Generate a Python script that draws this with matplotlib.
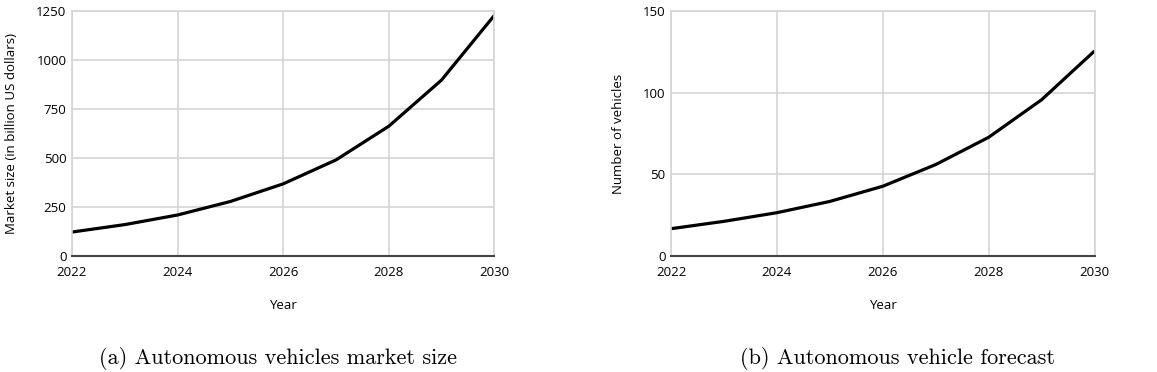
import numpy as np
import matplotlib.pyplot as plt

# Data
years = [2022, 2023, 2024, 2025, 2026, 2027, 2028, 2029, 2030]
market_size = [122, 160, 209, 278, 368, 490, 662, 898, 1228]
vehicles = [16.7, 21.2, 26.5, 33.4, 42.7, 56.0, 72.7, 95.7, 125.6]

x_ticks = [2022, 2024, 2026, 2028, 2030]
left_yticks = [0, 250, 500, 750, 1000, 1250]
right_yticks = [0, 50, 100, 150]

TICK_FONT = "Open Sans"
GRID_COLOR = "#d4d4d4"

fig = plt.figure(figsize=(11.57, 3.72), dpi=100)
ax1 = fig.add_axes([0.0622, 0.312, 0.365, 0.658])
ax2 = fig.add_axes([0.580, 0.312, 0.366, 0.658])


def style_axis(ax, yticks, ylabel, ylabelpad):
    ax.set_xlim(2022, 2030)
    ax.set_ylim(yticks[0], yticks[-1])
    ax.set_xticks(x_ticks)
    ax.set_yticks(yticks)
    ax.grid(True, color=GRID_COLOR, linewidth=1.2)
    ax.set_axisbelow(True)
    for side in ["top", "right", "left"]:
        ax.spines[side].set_color(GRID_COLOR)
        ax.spines[side].set_linewidth(1.2)
    ax.spines["bottom"].set_color("#444444")
    ax.spines["bottom"].set_linewidth(1.5)
    ax.tick_params(axis="y", length=0, pad=4, labelsize=9.5)
    ax.tick_params(axis="x", length=0, pad=7, labelsize=9.5)
    for lab in ax.get_xticklabels() + ax.get_yticklabels():
        lab.set_fontfamily(TICK_FONT)
    ax.set_xlabel("Year", fontfamily=TICK_FONT, fontsize=9.5, labelpad=15)
    ax.set_ylabel(ylabel, fontfamily=TICK_FONT, fontsize=9.5, labelpad=ylabelpad)


ax1.plot(years, market_size, color="black", linewidth=2.3, solid_capstyle="butt")
style_axis(ax1, left_yticks, "Market size (in billion US dollars)", 13)

ax2.plot(years, vehicles, color="black", linewidth=2.3, solid_capstyle="butt")
style_axis(ax2, right_yticks, "Number of vehicles", 13)

fig.text(0.2405, 0.037, "(a) Autonomous vehicles market size",
         fontfamily="cmr10", fontsize=16, ha="center", va="center")
fig.text(0.7753, 0.037, "(b) Autonomous vehicle forecast",
         fontfamily="cmr10", fontsize=16, ha="center", va="center")

fig.savefig("out.png", dpi=100)
